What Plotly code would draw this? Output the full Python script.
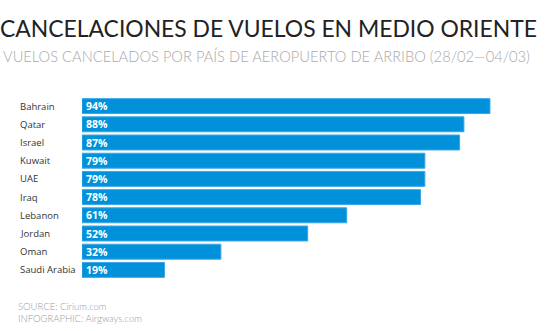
import plotly.graph_objects as go

countries = ["Bahrain", "Qatar", "Israel", "Kuwait", "UAE", "Iraq", "Lebanon", "Jordan", "Oman", "Saudi Arabia"]
values = [94, 88, 87, 79, 79, 78, 61, 52, 32, 19]
labels = [f"{v}%" for v in values]

W, H = 549, 331
ml, mr, mt, mb = 82, 33, 97, 52

fig = go.Figure(go.Bar(
    x=values, y=countries, orientation="h",
    marker=dict(color="#0091DA", line=dict(color="#3aa6e6", width=1)),
    cliponaxis=False, hoverinfo="skip",
))

annotations = []
pw = W - ml - mr
for c, t in zip(countries, labels):
    annotations.append(dict(
        x=(18 - ml) / pw, xref="paper", y=c, yref="y", text=c, showarrow=False,
        xanchor="left", yanchor="middle",
        font=dict(family="Open Sans", size=9.5, color="#333"),
    ))
    annotations.append(dict(
        x=0, xref="x", y=c, yref="y", text=t, showarrow=False,
        xanchor="left", yanchor="middle", xshift=2,
        font=dict(family="Open Sans", size=10.5, color="white", weight="bold"),
    ))

annotations += [
    dict(x=0, y=1, xref="paper", yref="paper", text="CANCELACIONES DE VUELOS EN MEDIO ORIENTE",
         showarrow=False, xanchor="left", yanchor="top", xshift=-ml - 2, yshift=mt - 12,
         font=dict(family="Lato", size=22.9, color="#222222")),
    dict(x=0, y=1, xref="paper", yref="paper",
         text="VUELOS CANCELADOS POR PAÍS DE AEROPUERTO DE ARRIBO (28/02—04/03)",
         showarrow=False, xanchor="left", yanchor="top", xshift=-ml + 1, yshift=mt - 45,
         font=dict(family="Lato", size=14.7, color="#aaaaaa", weight=300)),
    dict(x=0, y=0, xref="paper", yref="paper",
         text="SOURCE: Cirium.com<br>INFOGRAPHIC: Airgways.com",
         showarrow=False, xanchor="left", yanchor="top", align="left", xshift=-ml + 16, yshift=-(299 - (H - mb)),
         font=dict(family="Lato", size=9.5, color="#999999", weight=300)),
]

fig.update_layout(
    width=W, height=H, margin=dict(l=ml, r=mr, t=mt, b=mb),
    paper_bgcolor="white", plot_bgcolor="white",
    xaxis=dict(range=[0, 100], visible=False, fixedrange=True),
    yaxis=dict(autorange="reversed", showticklabels=False, showgrid=False, zeroline=False, showline=False, ticks=""),
    bargap=0.18, showlegend=False, annotations=annotations,
)

fig.write_html("out.html")
